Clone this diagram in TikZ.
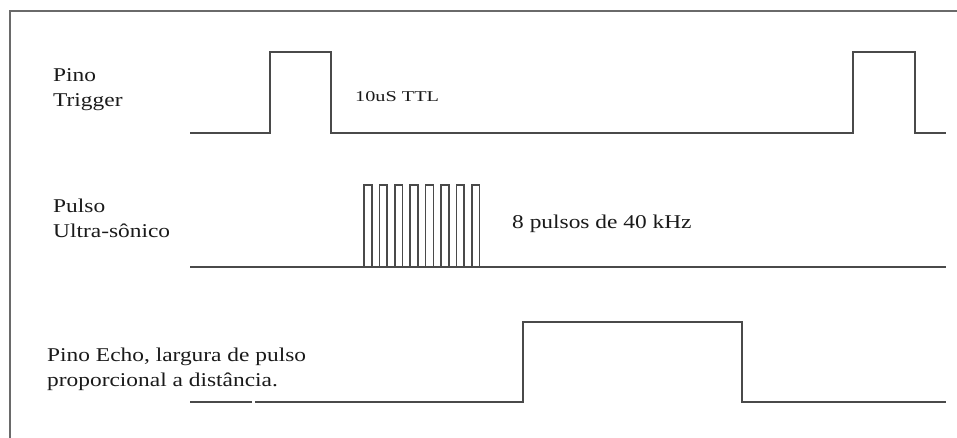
\documentclass[tikz,border=0pt]{standalone}
\usepackage{fontspec}
\setmainfont{Liberation Serif}[FakeStretch=1.2]
\newfontfamily\ttlfont{Liberation Serif}[FakeStretch=1.35]
\definecolor{sig}{HTML}{4A4A4A}
\definecolor{frm}{HTML}{6A6A6A}
\definecolor{txt}{HTML}{1A1A1A}
\tikzset{
  signal/.style={draw=sig, line width=1.6pt, line join=miter},
  frameline/.style={draw=frm, line width=2pt},
  lbl/.style={anchor=base west, inner sep=0pt, text=txt, font=\fontsize{19.5}{24.5}\selectfont, align=left},
  smalllbl/.style={anchor=base west, inner sep=0pt, text=txt, font=\ttlfont\fontsize{15}{17}\selectfont}
}
\begin{document}
\begin{tikzpicture}[x=1pt, y=-1pt]
\useasboundingbox (0,0) rectangle (957,437);
\fill[white] (0,0) rectangle (957,437);
% frame
\draw[frameline] (10,440) -- (10,11) -- (960,11);
% trigger
\draw[signal] (190,133) -- (270,133) -- (270,52) -- (331,52) -- (331,133) -- (853,133) -- (853,52) -- (915,52) -- (915,133) -- (946,133);
% ultrasonic burst
\draw[signal] (190,267) -- (946,267);
\foreach \i in {0,...,7}{
  \pgfmathsetmacro{\xa}{364+15.4*\i}
  \pgfmathsetmacro{\xb}{\xa+7.7}
  \draw[signal] (\xa,267) -- (\xa,185) -- (\xb,185) -- (\xb,267);
}
% echo
\draw[signal] (190,402) -- (252,402);
\draw[signal] (255,402) -- (523,402) -- (523,322) -- (742,322) -- (742,402) -- (946,402);
% labels (base = baseline of last line)
\node[lbl] (trig) at (53,106) {Pino\\Trigger};
\node[smalllbl] (ttl) at (355,101) {10uS TTL};
\node[lbl] (ultra) at (53,237) {Pulso\\Ultra-sônico};
\node[lbl] (burst) at (512,228) {8 pulsos de 40 kHz};
\node[lbl] (echo) at (47,386) {Pino Echo, largura de pulso\\proporcional a distância.};
\end{tikzpicture}
\end{document}
